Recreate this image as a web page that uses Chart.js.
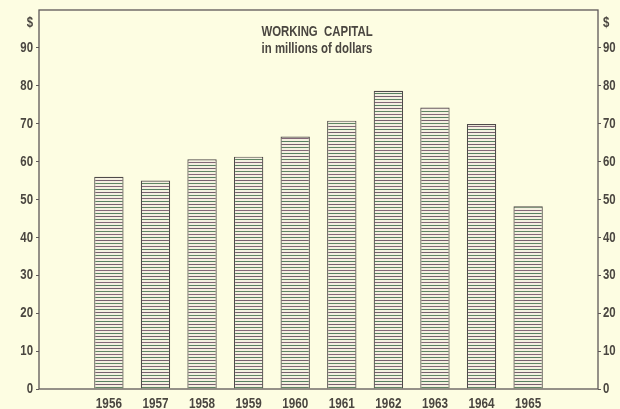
<!DOCTYPE html>
<html>
<head>
<meta charset="utf-8">
<script src="https://cdn.jsdelivr.net/npm/chart.js@4.4.0/dist/chart.umd.min.js"></script>
<style>
  html, body { margin: 0; padding: 0; background: #fdfde2; }
  #wrap { width: 620px; height: 409px; }
</style>
</head>
<body>
<div id="wrap"><canvas id="chart"></canvas></div>
<script>
// Working capital, in millions of dollars
const years = ['', '1956', '1957', '1958', '1959', '1960', '1961', '1962', '1963', '1964', '1965', ''];
const capital = [null, 56, 55, 60.6, 61.3, 66.6, 70.8, 78.7, 74.3, 69.9, 48.2, null];
const yTicks = [0, 10, 20, 30, 40, 50, 60, 70, 80, 90];
const dollarTick = 96.6;

const colors = {
    paper: '#fdfde2',
    ink: '#4a4640',
    frame: '#5e5858',
    barEdge: '#4f4a4a'
};

const family = "'Liberation Sans', Arial, sans-serif";

// horizontal hatching like the printed bars
function stripes() {
    const c = document.createElement('canvas');
    c.width = 4; c.height = 12;
    const g = c.getContext('2d');
    g.fillStyle = '#f4f0e0';
    g.fillRect(0, 0, 4, 12);
    const lines = ['#76606e', '#5f8563', '#836878', '#578060'];
    lines.forEach((col, i) => {
        g.fillStyle = col;
        g.fillRect(0, i * 3, 4, 1);
    });
    return g.createPattern(c, 'repeat');
}

// the print uses a condensed face, so squeeze the text horizontally
function narrowText(ctx, text, x, y, align, size, squeeze) {
    ctx.save();
    ctx.font = 'bold ' + size + 'px ' + family;
    ctx.textAlign = align;
    ctx.textBaseline = 'middle';
    ctx.fillStyle = colors.ink;
    ctx.translate(x, y);
    ctx.scale(squeeze, 1);
    ctx.fillText(text, 0, 0);
    ctx.restore();
}

const framePlugin = {
    id: 'frame',
    afterDraw(chart) {
        const { ctx, chartArea: a } = chart;
        ctx.save();
        ctx.strokeStyle = colors.frame;
        ctx.lineWidth = 1.3;
        ctx.strokeRect(a.left, a.top, a.right - a.left, a.bottom - a.top);
        ctx.restore();

        narrowText(ctx, 'WORKING  CAPITAL', 317, 32, 'center', 15, 0.76);
        narrowText(ctx, 'in millions of dollars', 317, 49, 'center', 15, 0.76);

        const left = chart.scales.y, right = chart.scales.y2, x = chart.scales.x;
        left.ticks.forEach((t, i) => {
            const label = t.value === dollarTick ? '$' : String(t.value);
            narrowText(ctx, label, left.right - 6, left.getPixelForTick(i), 'right', 15, 0.76);
        });
        right.ticks.forEach((t, i) => {
            const label = t.value === dollarTick ? '$' : String(t.value);
            narrowText(ctx, label, right.left + 5, right.getPixelForTick(i), 'left', 15, 0.76);
        });
        x.ticks.forEach((t, i) => {
            const label = x.getLabelForValue(t.value);
            if (!label) return;
            narrowText(ctx, label, x.getPixelForTick(i), x.top + 15, 'center', 15, 0.78);
        });
    }
};

function yScale(position, width) {
    return {
        position: position,
        min: 0,
        max: 100,
        afterBuildTicks: (axis) => {
            axis.ticks = yTicks.concat([dollarTick]).map(v => ({ value: v }));
        },
        afterFit: (axis) => { axis.width = width; },
        ticks: { display: false },
        grid: {
            drawOnChartArea: false,
            tickLength: 3,
            color: (ctx) => ctx.tick && ctx.tick.value === dollarTick ? 'rgba(0,0,0,0)' : colors.frame
        },
        border: { display: false }
    };
}

document.addEventListener('DOMContentLoaded', () => {
    new Chart(document.getElementById('chart'), {
        type: 'bar',
        data: {
            labels: years,
            datasets: [{
                data: capital,
                backgroundColor: stripes(),
                borderColor: colors.barEdge,
                borderWidth: 1.2,
                barPercentage: 0.63,
                categoryPercentage: 1
            }]
        },
        options: {
            responsive: true,
            maintainAspectRatio: false,
            animation: false,
            layout: { padding: { top: 10, left: 0, right: 0, bottom: 0 } },
            plugins: {
                legend: { display: false },
                tooltip: { enabled: false }
            },
            scales: {
                x: {
                    grid: { display: false },
                    border: { display: false },
                    afterFit: (axis) => { axis.height = 20; },
                    ticks: { display: false, autoSkip: false }
                },
                y: yScale('left', 39),
                y2: yScale('right', 22)
            }
        },
        plugins: [framePlugin]
    });
});
</script>
</body>
</html>
